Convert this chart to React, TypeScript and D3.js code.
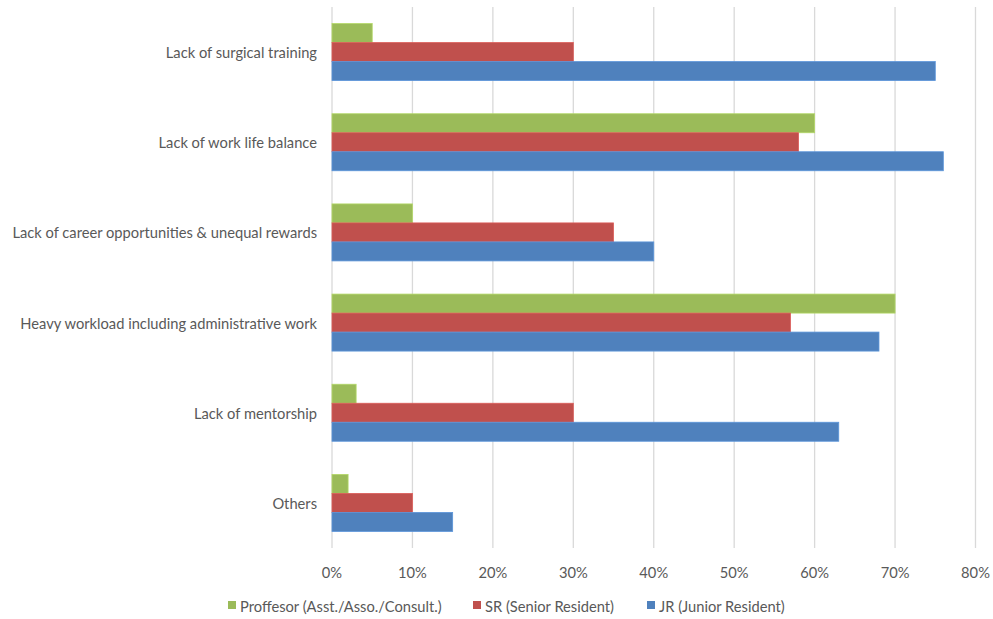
import React from "react";
import * as d3 from "d3";

const categories = [
  "Lack of surgical training",
  "Lack of work life balance",
  "Lack of career opportunities & unequal rewards",
  "Heavy workload including administrative work",
  "Lack of mentorship",
  "Others",
];
const seriesNames = [
  "Proffesor (Asst./Asso./Consult.)",
  "SR (Senior Resident)",
  "JR (Junior Resident)",
];
const professorValues = [5, 60, 10, 70, 3, 2];
const srValues = [30, 58, 35, 57, 30, 10];
const jrValues = [75, 76, 40, 68, 63, 15];
const xTicks = [0, 10, 20, 30, 40, 50, 60, 70, 80];
const colors = ["#9BBB59", "#C0504D", "#4F81BD"];

const W = 993;
const H = 619;
const FONT = "Lato, 'Open Sans', sans-serif";
const FS = 14.7;

export default function App() {
  const x = d3.scaleLinear().domain([0, 80]).range([332, 975.5]);
  const y = d3.scaleBand<string>().domain(categories).range([7, 548]).paddingInner(0).paddingOuter(0);
  const inner = d3.scaleBand<number>().domain([0, 1, 2]).range([0, 57]).padding(0);
  const values = [professorValues, srValues, jrValues];
  const bw = y.bandwidth();
  const groupOffset = (bw - 57) / 2;

  const legendX = [228, 473, 647];

  return (
    <svg width={W} height={H} style={{ position: "absolute", left: 0, top: 0, background: "#fff" }}>
      <rect x={0} y={0} width={W} height={H} fill="#fff" />
      {xTicks.map((t) => (
        <line key={t} x1={x(t)} x2={x(t)} y1={7} y2={548} stroke="#D9D9D9" strokeWidth={1.3} />
      ))}
      {categories.map((c, ci) => (
        <g key={c}>
          {values.map((vals, si) => (
            <rect
              key={si}
              x={x(0)}
              y={(y(c) as number) + groupOffset + (inner(si) as number)}
              width={x(vals[ci]) - x(0)}
              height={inner.bandwidth()}
              fill={colors[si]}
              stroke={d3.color(colors[si])!.brighter(0.4).formatHex()}
              strokeWidth={0.8}
            />
          ))}
          <text
            x={317}
            y={(y(c) as number) + bw / 2}
            textAnchor="end"
            dominantBaseline="central"
            fontFamily={FONT}
            fontSize={FS}
            fill="#595959"
          >
            {c}
          </text>
        </g>
      ))}
      {xTicks.map((t) => (
        <text key={t} x={x(t)} y={572} textAnchor="middle" dominantBaseline="central" fontFamily={FONT} fontSize={FS} fill="#595959">
          {t + "%"}
        </text>
      ))}
      {seriesNames.map((s, i) => (
        <g key={s}>
          <rect x={legendX[i]} y={601} width={8} height={8} fill={colors[i]} />
          <text x={legendX[i] + 12} y={606} dominantBaseline="central" fontFamily={FONT} fontSize={FS} fill="#595959">
            {s}
          </text>
        </g>
      ))}
    </svg>
  );
}
